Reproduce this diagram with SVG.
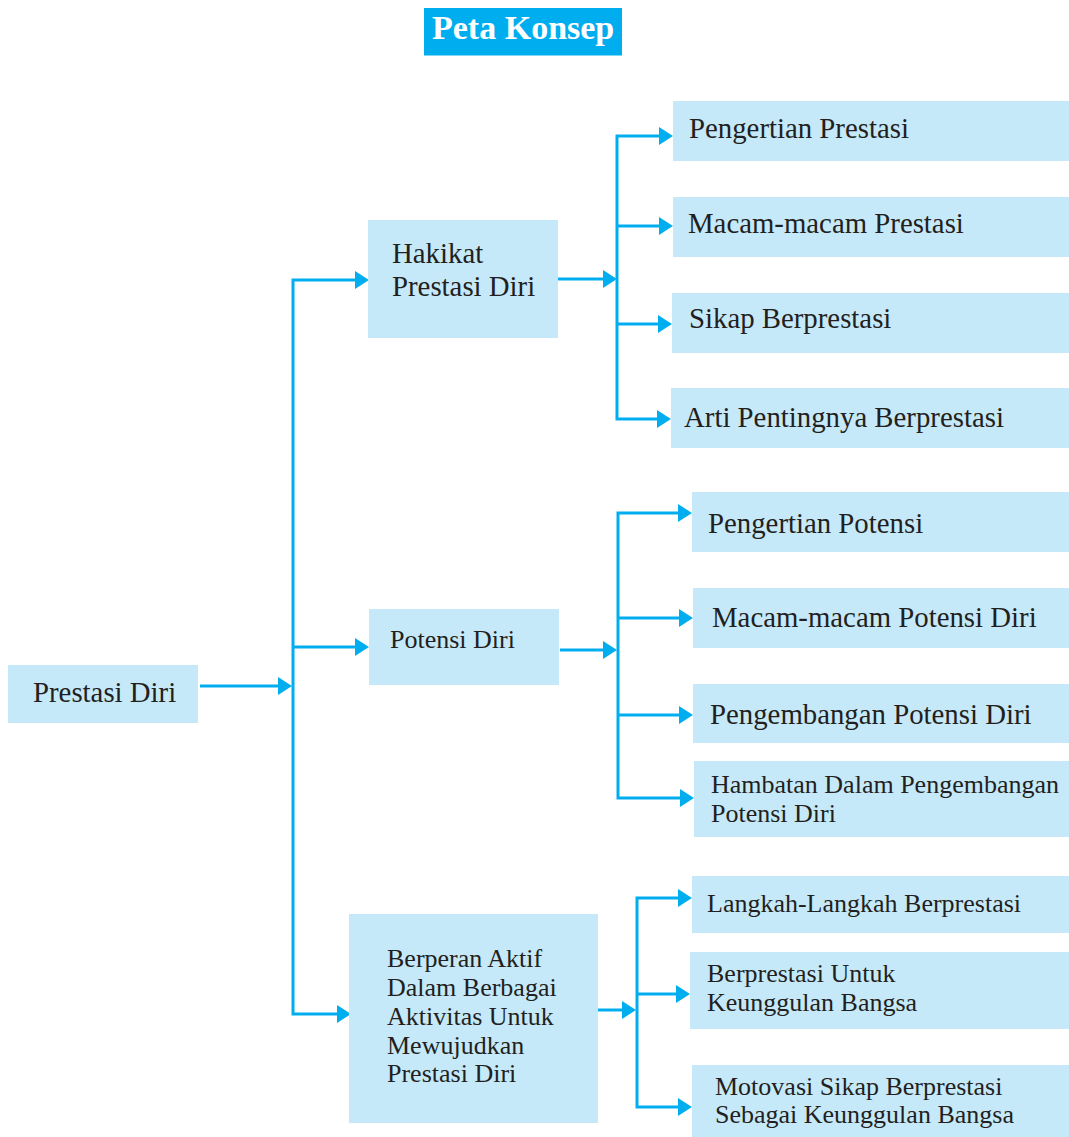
<svg xmlns="http://www.w3.org/2000/svg" width="1069" height="1137" viewBox="0 0 1069 1137">
<style>
.box{fill:#C6E9F9}
.t{font-family:"Liberation Serif","Times New Roman",serif;fill:#231F20}
.lg{font-size:28.8px}
.md{font-size:26px}
.ln{fill:none;stroke:#00AEEF;stroke-width:3}
.title{font-family:"Liberation Serif","Times New Roman",serif;font-weight:bold;font-size:34px;fill:#FFFFFF}
</style>
<defs>
<marker id="ah" markerUnits="userSpaceOnUse" markerWidth="14" markerHeight="18" viewBox="0 0 14 18" refX="6" refY="9" orient="auto-start-reverse">
<path d="M0,0 L14,9 L0,18 Z" fill="#00AEEF"/>
</marker>
</defs>
<rect width="1069" height="1137" fill="#FFFFFF"/>

<g id="title">
<rect x="424" y="8" width="198" height="47.5" fill="#00AEEF"/>
<text class="title" x="432" y="39">Peta Konsep</text>
</g>

<g id="connectors">
<path class="ln" d="M200,686 H284" marker-end="url(#ah)"/>
<path class="ln" d="M361,280 H293 V1014 H343" marker-start="url(#ah)" marker-end="url(#ah)"/>
<path class="ln" d="M293,647 H361" marker-end="url(#ah)"/>

<path class="ln" d="M558,279 H609" marker-end="url(#ah)"/>
<path class="ln" d="M665,136 H617 V419 H663" marker-start="url(#ah)" marker-end="url(#ah)"/>
<path class="ln" d="M617,226 H665" marker-end="url(#ah)"/>
<path class="ln" d="M617,324 H664" marker-end="url(#ah)"/>

<path class="ln" d="M560,650 H609" marker-end="url(#ah)"/>
<path class="ln" d="M684,513 H618 V798 H686" marker-start="url(#ah)" marker-end="url(#ah)"/>
<path class="ln" d="M618,618 H685" marker-end="url(#ah)"/>
<path class="ln" d="M618,715 H685" marker-end="url(#ah)"/>

<path class="ln" d="M598,1010 H628" marker-end="url(#ah)"/>
<path class="ln" d="M684,898 H637 V1107 H684" marker-start="url(#ah)" marker-end="url(#ah)"/>
<path class="ln" d="M637,994 H682" marker-end="url(#ah)"/>
</g>

<g id="prestasi-diri">
<rect class="box" x="8" y="665" width="190" height="58"/>
<text class="t lg" x="33" y="702" font-size="28.6">Prestasi Diri</text>
</g>

<g id="hakikat">
<rect class="box" x="368" y="220" width="190" height="118"/>
<text class="t lg" x="392" y="263">Hakikat</text>
<text class="t lg" x="392" y="296">Prestasi Diri</text>
</g>

<g id="potensi-diri">
<rect class="box" x="369" y="609" width="190" height="76"/>
<text class="t md" x="390" y="648">Potensi Diri</text>
</g>

<g id="berperan">
<rect class="box" x="349" y="914" width="249" height="209"/>
<text class="t md" x="387" y="967">Berperan Aktif</text>
<text class="t md" x="387" y="996">Dalam Berbagai</text>
<text class="t md" x="387" y="1025">Aktivitas Untuk</text>
<text class="t md" x="387" y="1054">Mewujudkan</text>
<text class="t md" x="387" y="1082">Prestasi Diri</text>
</g>

<g id="pengertian-prestasi">
<rect class="box" x="673" y="101" width="396" height="60"/>
<text class="t lg" x="689" y="138">Pengertian Prestasi</text>
</g>

<g id="macam-prestasi">
<rect class="box" x="673" y="197" width="396" height="60"/>
<text class="t lg" x="688" y="233">Macam-macam Prestasi</text>
</g>

<g id="sikap-berprestasi">
<rect class="box" x="672" y="293" width="397" height="60"/>
<text class="t lg" x="689" y="328">Sikap Berprestasi</text>
</g>

<g id="arti-pentingnya">
<rect class="box" x="671" y="388" width="398" height="60"/>
<text class="t lg" x="684" y="427">Arti Pentingnya Berprestasi</text>
</g>

<g id="pengertian-potensi">
<rect class="box" x="692" y="492" width="377" height="60"/>
<text class="t lg" x="708" y="533">Pengertian Potensi</text>
</g>

<g id="macam-potensi">
<rect class="box" x="693" y="588" width="376" height="60"/>
<text class="t lg" x="712" y="627">Macam-macam Potensi Diri</text>
</g>

<g id="pengembangan-potensi">
<rect class="box" x="693" y="684" width="376" height="59"/>
<text class="t lg" x="710" y="724">Pengembangan Potensi Diri</text>
</g>

<g id="hambatan">
<rect class="box" x="694" y="761" width="375" height="76"/>
<text class="t md" x="711" y="793">Hambatan Dalam Pengembangan</text>
<text class="t md" x="711" y="822">Potensi Diri</text>
</g>

<g id="langkah">
<rect class="box" x="692" y="876" width="377" height="57"/>
<text class="t md" x="707" y="912">Langkah-Langkah Berprestasi</text>
</g>

<g id="berprestasi-untuk">
<rect class="box" x="690" y="952" width="379" height="77"/>
<text class="t md" x="707" y="982">Berprestasi Untuk</text>
<text class="t md" x="707" y="1011">Keunggulan Bangsa</text>
</g>

<g id="motovasi">
<rect class="box" x="692" y="1065" width="377" height="72"/>
<text class="t md" x="715" y="1095">Motovasi Sikap Berprestasi</text>
<text class="t md" x="715" y="1123">Sebagai Keunggulan Bangsa</text>
</g>
</svg>
